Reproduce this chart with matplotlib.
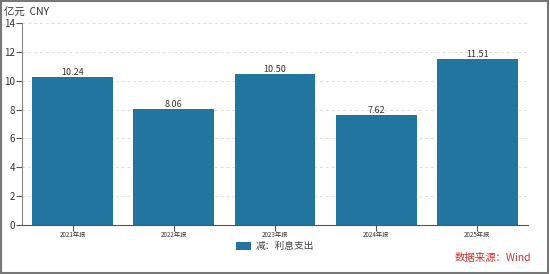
import matplotlib
matplotlib.use("Agg")
import matplotlib.pyplot as plt
from matplotlib.patches import Rectangle

plt.rcParams['font.family'] = ['Noto Sans CJK SC', 'DejaVu Sans']

categories = ["2021年报", "2022年报", "2023年报", "2024年报", "2025年报"]
values = [10.24, 8.06, 10.50, 7.62, 11.51]
series_name = "减：利息支出"
yticks = [0, 2, 4, 6, 8, 10, 12, 14]

fig = plt.figure(figsize=(5.5, 2.74), dpi=100)
ax = fig.add_axes([22/550, 1-225/274, 506/550, (225-23)/274])

x = list(range(len(categories)))
bars = ax.bar(x, values, width=0.8, color='#22759f', label=series_name, zorder=3)
for xi, v in zip(x, values):
    ax.text(xi, v, f"{v:.2f}", ha='center', va='bottom', fontsize=6.5, color='#333333')

ax.set_xlim(-0.5, len(categories) - 0.5)
ax.set_ylim(0, 14)
ax.set_yticks(yticks)
ax.set_yticklabels([str(t) for t in yticks], fontsize=7, color='#333333')
ax.set_xticks(x)
ax.set_xticklabels(categories, fontsize=4.5, color='#333333')
ax.tick_params(axis='y', length=4, width=0.8, color='#555555', pad=1)
ax.tick_params(axis='x', length=4, width=0.8, color='#555555', pad=0.5)
ax.grid(axis='y', linestyle=(0, (3, 3)), color='#dddddd', linewidth=0.7, zorder=0)
for s in ['top', 'right']:
    ax.spines[s].set_visible(False)
ax.spines['left'].set_color('#888888')
ax.spines['bottom'].set_color('#555555')

fig.text(4/550, 1-13/274, "亿元  CNY", fontsize=7.5, color='#333333', va='center', ha='left')

leg = fig.legend(loc='center', bbox_to_anchor=(0.5, 1-246/274), frameon=False,
                 fontsize=7, handlelength=1.6, handleheight=0.9, handletextpad=0.5,
                 labelcolor='#444444', borderpad=0)
for h in leg.legend_handles:
    h.set_linewidth(0)

fig.text(531/550, 1-258/274, "数据来源：Wind", fontsize=7.5, color='#d0302a', ha='right', va='center')

fig.add_artist(Rectangle((0.002, 0.004), 0.994, 0.992, transform=fig.transFigure,
                         fill=False, edgecolor='#777777', linewidth=1.5))

fig.savefig("out.png", dpi=100)
